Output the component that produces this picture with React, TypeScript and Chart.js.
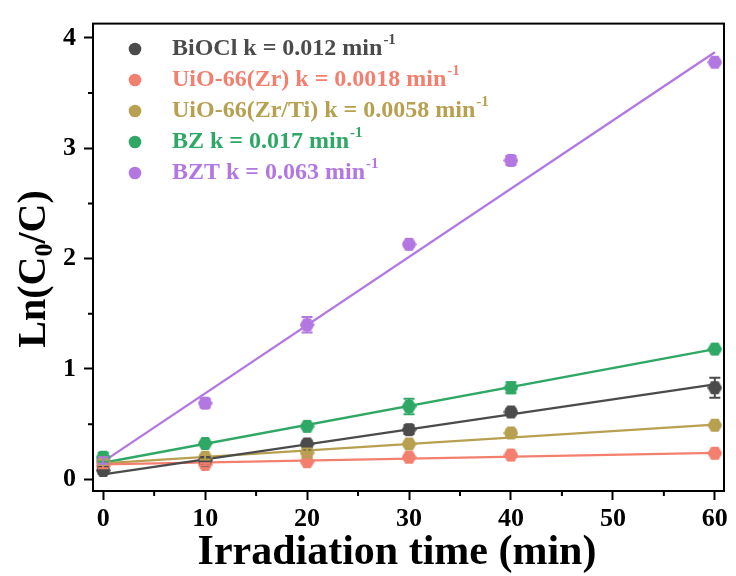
import React, { useEffect, useRef } from 'react';
import { Chart, registerables } from 'chart.js';

Chart.register(...registerables);

const times = [0, 10, 20, 30, 40, 60];
const seriesNames = ['BiOCl', 'UiO-66(Zr)', 'UiO-66(Zr/Ti)', 'BZ', 'BZT'];
const rateLabels = ['0.012', '0.0018', '0.0058', '0.017', '0.063'];
const colors = ['#4b4b4b', '#f37f6e', '#b7a050', '#2fa866', '#b277e0'];

const bioclValues = [0.08, 0.17, 0.32, 0.45, 0.61, 0.83];
const uioZrValues = [0.12, 0.135, 0.16, 0.2, 0.22, 0.236];
const uioZrTiValues = [0.15, 0.2, 0.24, 0.32, 0.42, 0.49];
const bzValues = [0.2, 0.325, 0.48, 0.66, 0.83, 1.18];
const bztValues = [0.17, 0.69, 1.4, 2.13, 2.89, 3.78];

const bioclErrors = [0.03, 0.02, 0.03, 0.04, 0.03, 0.09];
const uioZrErrors = [0.02, 0.01, 0.01, 0.01, 0.01, 0.01];
const uioZrTiErrors = [0.02, 0.02, 0.04, 0.02, 0.03, 0.01];
const bzErrors = [0.04, 0.01, 0.01, 0.07, 0.05, 0.01];
const bztErrors = [0.03, 0.04, 0.07, 0.02, 0.04, 0.02];

const fitTimes = [0, 60];
const bioclFit = [0.045, 0.86];
const uioZrFit = [0.135, 0.24];
const uioZrTiFit = [0.145, 0.495];
const bzFit = [0.15, 1.18];
const bztFit = [0.16, 3.87];

const xTicks = [0, 10, 20, 30, 40, 50, 60];
const yTicks = [0, 1, 2, 3, 4];
const xMinorTicks = [5, 15, 25, 35, 45, 55];
const yMinorTicks = [0.5, 1.5, 2.5, 3.5];

const valueSets = [bioclValues, uioZrValues, uioZrTiValues, bzValues, bztValues];
const errorSets = [bioclErrors, uioZrErrors, uioZrTiErrors, bzErrors, bztErrors];
const fitSets = [bioclFit, uioZrFit, uioZrTiFit, bzFit, bztFit];

const FONT = '"Liberation Serif", "Times New Roman", serif';

function hexagon(color: string): HTMLCanvasElement {
  const c = document.createElement('canvas');
  const s = 15;
  c.width = s;
  c.height = s;
  const ctx = c.getContext('2d')!;
  ctx.fillStyle = color;
  ctx.beginPath();
  const r = 7.4;
  for (let i = 0; i < 6; i++) {
    const a = (Math.PI / 3) * i;
    const px = s / 2 + r * Math.cos(a);
    const py = s / 2 + r * Math.sin(a);
    if (i === 0) ctx.moveTo(px, py);
    else ctx.lineTo(px, py);
  }
  ctx.closePath();
  ctx.fill();
  return c;
}

const errorBarPlugin = {
  id: 'errorBars',
  afterDatasetsDraw(chart: any) {
    const ctx = chart.ctx;
    const xs = chart.scales.x;
    const ys = chart.scales.y;
    ctx.save();
    chart.data.datasets.forEach((ds: any) => {
      if (!ds.errors) return;
      ctx.strokeStyle = ds.borderColor;
      ctx.lineWidth = 2;
      ds.data.forEach((p: any, i: number) => {
        const e = ds.errors[i];
        const x = xs.getPixelForValue(p.x);
        const y1 = ys.getPixelForValue(p.y - e);
        const y2 = ys.getPixelForValue(p.y + e);
        ctx.beginPath();
        ctx.moveTo(x, y1);
        ctx.lineTo(x, y2);
        ctx.moveTo(x - 5.5, y1);
        ctx.lineTo(x + 5.5, y1);
        ctx.moveTo(x - 5.5, y2);
        ctx.lineTo(x + 5.5, y2);
        ctx.stroke();
      });
    });
    ctx.restore();
  },
};

const framePlugin = {
  id: 'frame',
  afterDraw(chart: any) {
    const ctx = chart.ctx;
    const a = chart.chartArea;
    const xs = chart.scales.x;
    const ys = chart.scales.y;
    ctx.save();
    ctx.strokeStyle = '#000';
    ctx.lineWidth = 2;
    ctx.strokeRect(a.left, a.top, a.right - a.left, a.bottom - a.top);
    ctx.beginPath();
    xMinorTicks.forEach((v) => {
      const x = xs.getPixelForValue(v);
      ctx.moveTo(x, a.bottom);
      ctx.lineTo(x, a.bottom + 5);
    });
    yMinorTicks.forEach((v) => {
      const y = ys.getPixelForValue(v);
      ctx.moveTo(a.left, y);
      ctx.lineTo(a.left - 5, y);
    });
    ctx.stroke();

    // legend
    const legendX = 135;
    const textX = 172;
    seriesNames.forEach((name, i) => {
      const y = 49 + i * 31;
      ctx.fillStyle = colors[i];
      ctx.beginPath();
      ctx.arc(legendX, y, 6.3, 0, Math.PI * 2);
      ctx.fill();
      ctx.font = `bold 24px ${FONT}`;
      ctx.textBaseline = 'middle';
      ctx.textAlign = 'left';
      const main = `${name} k = ${rateLabels[i]} min`;
      ctx.fillText(main, textX, y);
      const w = ctx.measureText(main).width;
      ctx.font = `bold 15px ${FONT}`;
      ctx.fillText('-1', textX + w + 1, y - 9);
    });

    // x title
    ctx.fillStyle = '#000';
    ctx.font = `bold 42px ${FONT}`;
    ctx.textAlign = 'center';
    ctx.textBaseline = 'alphabetic';
    ctx.fillText('Irradiation time (min)', 397, 564);

    // y title
    ctx.save();
    ctx.translate(45, 269);
    ctx.rotate(-Math.PI / 2);
    const big = `bold 40px ${FONT}`;
    const small = `bold 26px ${FONT}`;
    ctx.font = big;
    const p1 = 'Ln(C';
    const p3 = '/C)';
    const w1 = ctx.measureText(p1).width;
    const w3 = ctx.measureText(p3).width;
    ctx.font = small;
    const w2 = ctx.measureText('0').width;
    const total = w1 + w2 + w3;
    let cx = -total / 2;
    ctx.textAlign = 'left';
    ctx.font = big;
    ctx.fillText(p1, cx, 0);
    cx += w1;
    ctx.font = small;
    ctx.fillText('0', cx, 7);
    cx += w2;
    ctx.font = big;
    ctx.fillText(p3, cx, 0);
    ctx.restore();
    ctx.restore();
  },
};

export default function App() {
  const ref = useRef<HTMLCanvasElement | null>(null);

  useEffect(() => {
    if (!ref.current) return;
    const datasets: any[] = [];
    seriesNames.forEach((name, i) => {
      datasets.push({
        label: name + ' fit',
        data: fitTimes.map((t, j) => ({ x: t, y: fitSets[i][j] })),
        showLine: true,
        borderColor: colors[i],
        backgroundColor: colors[i],
        borderWidth: 2.3,
        pointRadius: 0,
        order: 2,
      });
    });
    seriesNames.forEach((name, i) => {
      datasets.push({
        label: name,
        data: times.map((t, j) => ({ x: t, y: valueSets[i][j] })),
        errors: errorSets[i],
        showLine: false,
        borderColor: colors[i],
        backgroundColor: colors[i],
        pointStyle: hexagon(colors[i]),
        pointRadius: 7,
        order: 1,
      });
    });

    const tickFont = { family: FONT, size: 26, weight: 'bold' as const };

    const chart = new Chart(ref.current, {
      type: 'scatter',
      data: { datasets },
      plugins: [errorBarPlugin, framePlugin],
      options: {
        animation: false,
        responsive: true,
        maintainAspectRatio: false,
        layout: { padding: { left: 0, right: 12, top: 12, bottom: 0 } },
        plugins: { legend: { display: false }, tooltip: { enabled: false } },
        scales: {
          x: {
            type: 'linear',
            min: -1,
            max: 60.9,
            afterBuildTicks: (s: any) => {
              s.ticks = xTicks.map((v) => ({ value: v }));
            },
            afterFit: (s: any) => {
              s.height = 85;
            },
            ticks: { font: tickFont, color: '#000', padding: 4, maxRotation: 0, autoSkip: false },
            grid: { drawOnChartArea: false, tickLength: 9, tickWidth: 2, tickColor: '#000' },
            border: { display: false },
          },
          y: {
            type: 'linear',
            min: -0.106,
            max: 4.13,
            afterBuildTicks: (s: any) => {
              s.ticks = yTicks.map((v) => ({ value: v }));
            },
            afterFit: (s: any) => {
              s.width = 93;
            },
            ticks: { font: tickFont, color: '#000', padding: 8, autoSkip: false },
            grid: { drawOnChartArea: false, tickLength: 9, tickWidth: 2, tickColor: '#000' },
            border: { display: false },
          },
        },
      } as any,
    });
    return () => chart.destroy();
  }, []);

  return (
    <div style={{ position: 'fixed', left: 0, top: 0, width: 736, height: 576, background: '#fff' }}>
      <canvas ref={ref} />
    </div>
  );
}
